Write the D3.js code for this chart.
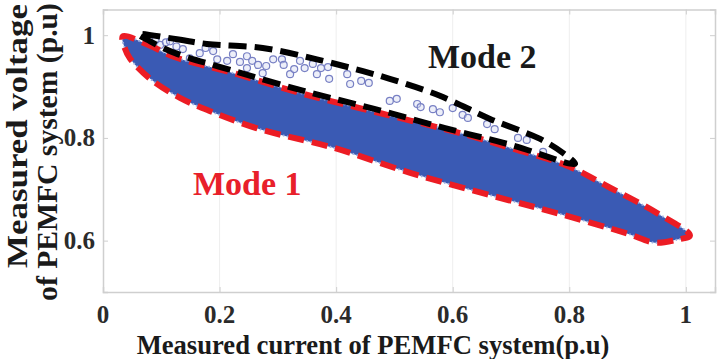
<!DOCTYPE html>
<html>
<head>
<meta charset="utf-8">
<script src="https://cdn.jsdelivr.net/npm/d3@7"></script>
<style>
  html, body { margin: 0; padding: 0; background: #fff; }
  svg { display: block; }
  text { font-family: "Liberation Serif", "Times New Roman", serif; font-weight: bold; }
</style>
</head>
<body>
<svg id="chart" width="722" height="359"></svg>
<script>
// ---- Data ----
const xTicks = [0, 0.2, 0.4, 0.6, 0.8, 1];
const xTickLabels = ["0", "0.2", "0.4", "0.6", "0.8", "1"];
const yTicks = [0.6, 0.8, 1];
const yTickLabels = ["0.6", "0.8", "1"];

// Mode 1: dense operating band (upper and lower envelope)
const mode1UpperX = [0.034, 0.072, 0.124, 0.218, 0.346, 0.480, 0.617, 0.703, 0.796, 0.870, 0.950, 1.007];
const mode1UpperY = [0.998, 0.984, 0.957, 0.928, 0.885, 0.847, 0.808, 0.779, 0.746, 0.703, 0.654, 0.610];
const mode1LowerX = [0.038, 0.046, 0.081, 0.132, 0.184, 0.269, 0.395, 0.527, 0.669, 0.784, 0.899, 0.947, 0.985];
const mode1LowerY = [0.973, 0.955, 0.915, 0.878, 0.852, 0.817, 0.781, 0.732, 0.687, 0.652, 0.614, 0.596, 0.602];

// Mode 2: region outline (outer edge and inner edge)
const mode2OuterX = [0.060, 0.127, 0.178, 0.274, 0.367, 0.446, 0.492, 0.578, 0.664, 0.750, 0.789, 0.810];
const mode2OuterY = [1.002, 0.992, 0.983, 0.975, 0.953, 0.930, 0.915, 0.882, 0.837, 0.798, 0.771, 0.750];
const mode2InnerX = [0.801, 0.707, 0.587, 0.467, 0.346, 0.226, 0.124, 0.081];
const mode2InnerY = [0.750, 0.784, 0.819, 0.856, 0.891, 0.930, 0.965, 0.988];

// Mode 2: sparse measured points
const mode2PointsX = [0.090, 0.098, 0.108, 0.115, 0.126, 0.137, 0.149, 0.166, 0.176, 0.189, 0.196, 0.213, 0.223, 0.235, 0.247, 0.247,
                      0.256, 0.266, 0.274, 0.280, 0.292, 0.307, 0.310, 0.321, 0.328, 0.338, 0.346, 0.360, 0.367, 0.374, 0.386,
                      0.388, 0.419, 0.424, 0.443, 0.456, 0.492, 0.504, 0.539, 0.545, 0.566, 0.578, 0.600, 0.617, 0.626, 0.659,
                      0.672, 0.712, 0.727, 0.755];
const mode2PointsY = [0.990, 0.981, 0.986, 0.988, 0.978, 0.973, 0.955, 0.965, 0.975, 0.969, 0.953, 0.950, 0.963, 0.948, 0.959, 0.936,
                      0.950, 0.942, 0.926, 0.940, 0.953, 0.953, 0.942, 0.924, 0.934, 0.950, 0.936, 0.944, 0.924, 0.936, 0.938,
                      0.915, 0.924, 0.905, 0.911, 0.907, 0.872, 0.876, 0.866, 0.860, 0.856, 0.850, 0.858, 0.845, 0.839, 0.827,
                      0.817, 0.800, 0.796, 0.773];

const xLabel = "Measured current of PEMFC system(p.u)";
const yLabel1 = "Measured voltage";
const yLabel2 = "of PEMFC system (p.u)";

// ---- Chart ----
const svg = d3.select("#chart");
const pLeft = 103, pRight = 715, pTop = 9.5, pBottom = 292;
const x = d3.scaleLinear().domain([0, 1.05]).range([pLeft, pRight]);
const y = d3.scaleLinear().domain([0.5, 1.05]).range([pBottom, pTop]);

// vertical grid lines
svg.append("g").selectAll("line").data(xTicks.slice(1)).join("line")
  .attr("x1", d => x(d)).attr("x2", d => x(d)).attr("y1", pTop).attr("y2", pBottom)
  .attr("stroke", "#eeeeee").attr("stroke-width", 1);

// axes frame with ticks
const xa = svg.append("g").attr("transform", `translate(0,${pBottom})`).call(d3.axisBottom(x).tickValues(xTicks).tickSize(-5).tickFormat(""));
const ya = svg.append("g").attr("transform", `translate(${pLeft},0)`).call(d3.axisLeft(y).tickValues(yTicks).tickSize(-5).tickFormat(""));
const xt = svg.append("g").attr("transform", `translate(0,${pTop})`).call(d3.axisTop(x).tickValues(xTicks).tickSize(-5).tickFormat(""));
const yr = svg.append("g").attr("transform", `translate(${pRight},0)`).call(d3.axisRight(y).tickValues(yTicks).tickSize(-5).tickFormat(""));
[xa, ya, xt, yr].forEach(g => {
  g.select(".domain").attr("stroke", "#cfcfcf").attr("stroke-width", 1.5);
  g.selectAll(".tick line").attr("stroke", "#cfcfcf");
});

// Mode 1 band
const upper = mode1UpperX.map((v, i) => [v, mode1UpperY[i]]);
const lower = mode1LowerX.map((v, i) => [v, mode1LowerY[i]]);
const mode1Poly = upper.concat(lower.slice().reverse());
const closedLine = d3.line().x(d => x(d[0])).y(d => y(d[1])).curve(d3.curveCatmullRomClosed.alpha(0.5));

svg.append("path").datum(mode1Poly)
  .attr("d", closedLine)
  .attr("fill", "#3a5ab4");
svg.append("path").datum(mode1Poly)
  .attr("d", closedLine)
  .attr("fill", "none").attr("stroke", "#9fb0e0").attr("stroke-width", 2).attr("stroke-dasharray", "1.5 2.5");

// Mode 2 points
svg.append("g").selectAll("circle").data(mode2PointsX.map((v, i) => [v, mode2PointsY[i]])).join("circle")
  .attr("cx", d => x(d[0])).attr("cy", d => y(d[1])).attr("r", 3.5)
  .attr("fill", "rgba(210,214,240,0.4)").attr("stroke", "#7880c4").attr("stroke-width", 1.2);

// Red dashed outline (Mode 1)
svg.append("path").datum(mode1Poly)
  .attr("d", closedLine)
  .attr("fill", "none").attr("stroke", "#ec1c24").attr("stroke-width", 6)
  .attr("stroke-dasharray", "16 8");

// Black dashed outline (Mode 2)
const outer = mode2OuterX.map((v, i) => [v, mode2OuterY[i]]);
const inner = mode2InnerX.map((v, i) => [v, mode2InnerY[i]]);
svg.append("path").datum(outer.concat(inner))
  .attr("d", closedLine)
  .attr("fill", "none").attr("stroke", "#000").attr("stroke-width", 6)
  .attr("stroke-dasharray", "18 8");

// tick labels
svg.append("g").selectAll("text").data(xTicks).join("text")
  .attr("x", d => x(d)).attr("y", 323)
  .attr("text-anchor", "middle").attr("font-size", 25).attr("fill", "#2b2b2b")
  .text((d, i) => xTickLabels[i]);
svg.append("g").selectAll("text").data(yTicks).join("text")
  .attr("x", 95).attr("y", d => y(d) + 8.5)
  .attr("text-anchor", "end").attr("font-size", 25).attr("fill", "#2b2b2b")
  .text((d, i) => yTickLabels[i]);

// axis labels: stretched along their length to match the picture's proportions
function stretchLabel(tx, ty, rot, fontSize, txt, targetLen) {
  const g = svg.append("g");
  const t = g.append("text").attr("text-anchor", "middle").attr("font-size", fontSize)
    .attr("fill", "#1a1a1a").text(txt);
  const w = t.node().getComputedTextLength();
  const sx = w > 0 ? targetLen / w : 1;
  g.attr("transform", `translate(${tx},${ty}) rotate(${rot}) scale(${sx},1)`);
}
stretchLabel(373, 354, 0, 27, xLabel, 473);
stretchLabel(27, 136, -90, 29, yLabel1, 264);
stretchLabel(57, 152, -90, 30, yLabel2, 298);

// mode annotations
svg.append("text").attr("x", 428).attr("y", 68).attr("font-size", 34).attr("fill", "#1a1a1a").text("Mode 2");
svg.append("text").attr("x", 193).attr("y", 195).attr("font-size", 34).attr("fill", "#e8202a").text("Mode 1");
</script>
</body>
</html>
